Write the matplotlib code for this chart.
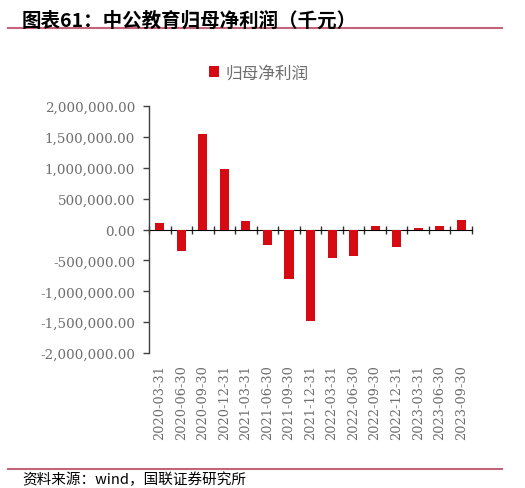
import numpy as np
import matplotlib
matplotlib.use("Agg")
import matplotlib.pyplot as plt
from matplotlib.ticker import FuncFormatter

# data (thousand yuan)
dates = ['2020-03-31', '2020-06-30', '2020-09-30', '2020-12-31',
         '2021-03-31', '2021-06-30', '2021-09-30', '2021-12-31',
         '2022-03-31', '2022-06-30', '2022-09-30', '2022-12-31',
         '2023-03-31', '2023-06-30', '2023-09-30']
profit = [108000, -355000, 1550000, 980000,
          135000, -242000, -797000, -1486000,
          -468000, -431000, 65000, -285000,
          27000, 54000, 156000]
yticks = [-2000000, -1500000, -1000000, -500000, 0,
          500000, 1000000, 1500000, 2000000]

cjk = ['Noto Sans CJK SC', 'DejaVu Sans']
serif = ['DejaVu Serif']
bar_color = '#d50a12'
grey = '#6e6e6e'
line_color = '#c4647c'

fig = plt.figure(figsize=(5.25, 4.89), dpi=100)
ax = fig.add_axes([0.284, 0.276, 0.615, 0.505])

x = np.arange(len(dates))
ax.bar(x, profit, width=0.42, color=bar_color, label='归母净利润', zorder=3)

ax.set_xlim(-0.5, len(dates) - 0.5)
ax.set_ylim(-2000000, 2000000)
ax.set_yticks(yticks)
ax.yaxis.set_major_formatter(FuncFormatter(lambda v, p: f'{v:,.2f}'))
for lab in ax.get_yticklabels():
    lab.set_fontfamily(serif)
ax.tick_params(axis='y', direction='out', length=4, width=1, color='#404040',
               labelsize=9.7, labelcolor=grey, pad=6)

# category labels at the bottom, no tick marks
ax.set_xticks(x)
ax.set_xticklabels(dates, rotation=90, fontfamily=serif, fontsize=9.3, color=grey)
ax.tick_params(axis='x', length=0, pad=8)

for s in ['top', 'right', 'bottom']:
    ax.spines[s].set_visible(False)
ax.spines['left'].set_color('#404040')
ax.spines['left'].set_linewidth(1)

# zero axis line with ticks between categories
sec = ax.secondary_xaxis(0.5)
sec.set_xticks(np.arange(len(dates) + 1) - 0.5)
sec.set_xticklabels([])
sec.tick_params(direction='inout', length=6, width=1, color='#303030')
sec.spines['bottom'].set_color('#303030')
sec.spines['bottom'].set_linewidth(1.2)

leg = ax.legend(loc='lower center', bbox_to_anchor=(0.34, 1.04), frameon=False,
                handlelength=0.6, handleheight=0.6, handletextpad=0.4,
                prop={'family': cjk, 'size': 12})
for t in leg.get_texts():
    t.set_color(grey)

# title, rules and source
fig.text(0.042, 0.977, '图表61：中公教育归母净利润（千元）', fontfamily=cjk,
         fontsize=14, fontweight='bold', va='top', ha='left')
fig.add_artist(plt.Line2D([0.015, 0.957], [0.94, 0.94], color=line_color, lw=1.5))
fig.add_artist(plt.Line2D([0.015, 0.957], [0.039, 0.039], color=line_color, lw=1.5))
fig.text(0.042, 0.034, '资料来源：wind，国联证券研究所', fontfamily=cjk,
         fontsize=10.5, va='top', ha='left')

fig.savefig('out.png', dpi=100)
